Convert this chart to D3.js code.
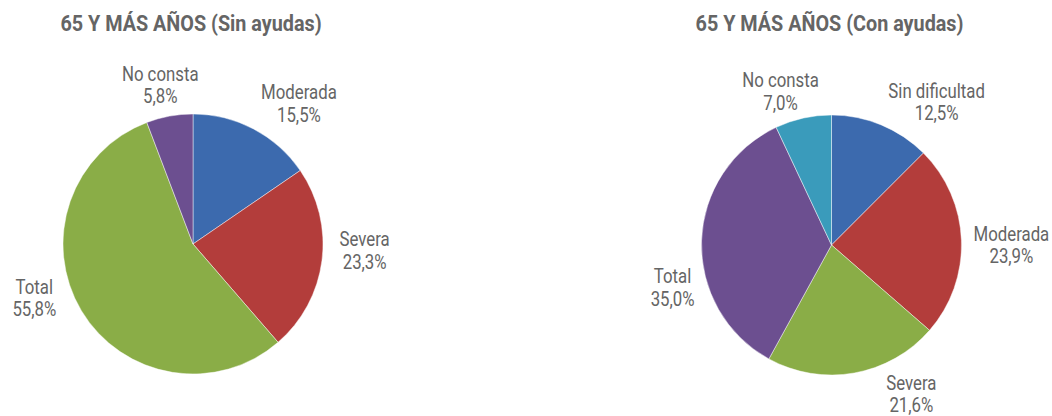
<!DOCTYPE html>
<html>
<head>
<meta charset="utf-8">
<script src="https://cdn.jsdelivr.net/npm/d3@7"></script>
<style>
  body { margin: 0; background: #fff; }
  text { font-family: Roboto, "Liberation Sans", sans-serif; fill: #656565; }
</style>
</head>
<body>
<svg id="chart" width="1052" height="416"></svg>
<script>
// data
var titles = ["65 Y MÁS AÑOS (Sin ayudas)", "65 Y MÁS AÑOS (Con ayudas)"];
var sinLabels = ["Moderada", "Severa", "Total", "No consta"];
var sinValues = [15.5, 23.3, 55.8, 5.8];
var conLabels = ["Sin dificultad", "Moderada", "Severa", "Total", "No consta"];
var conValues = [12.5, 23.9, 21.6, 35.0, 7.0];

var palette = ["#3c6aae", "#b33d3b", "#8aad47", "#6c4f90", "#3a9bbb"];

var radius = 130;
var labelR = 165;
var squeeze = 0.8;      // no condensed font installed, so narrow the glyphs
var titleSqueeze = 0.9;

// label nudges (px) from the centroid on the label ring
var nudgeSin = [[29, 5], [8, -15], [-17, -31], [-3, 3]];
var nudgeCon = [[42, 9], [15, 5], [51, -14], [6, 47], [-15, 7]];

var svg = d3.select("#chart");

function fmt(v) {
  return d3.format(".1f")(v).replace(".", ",") + "%";
}

function drawPie(cx, cy, title, labels, values, nudges) {
  var g = svg.append("g").attr("transform", "translate(" + cx + "," + cy + ")");
  var data = labels.map(function(d, i) { return {key: d, value: values[i], i: i}; });

  var pie = d3.pie().sort(null).value(function(d) { return d.value; });
  var arc = d3.arc().innerRadius(0).outerRadius(radius);
  var labelArc = d3.arc().innerRadius(labelR).outerRadius(labelR);

  g.selectAll(".slice")
    .data(pie(data))
    .enter()
    .append("path")
      .attr("class", "slice")
      .attr("d", arc)
      .attr("fill", function(d) { return palette[d.data.i]; })
      .attr("stroke", "#ffffff")
      .attr("stroke-opacity", 0.6)
      .attr("stroke-width", 0.75);

  var lab = g.selectAll(".lab")
    .data(pie(data))
    .enter()
    .append("text")
      .attr("class", "lab")
      .attr("text-anchor", "middle")
      .style("font-size", "21px")
      .attr("transform", function(d) {
        var c = labelArc.centroid(d);
        var n = nudges[d.data.i];
        return "translate(" + (c[0] + n[0]) + "," + (c[1] + n[1]) + ") scale(" + squeeze + ",1)";
      });

  lab.append("tspan").attr("x", 0).attr("dy", "-0.18em").text(function(d) { return d.data.key; });
  lab.append("tspan").attr("x", 0).attr("dy", "1.07em").text(function(d) { return fmt(d.data.value); });

  svg.append("text")
    .attr("transform", "translate(" + (cx - 2) + ",31) scale(" + titleSqueeze + ",1)")
    .attr("text-anchor", "middle")
    .style("font-size", "22px")
    .style("font-weight", "bold")
    .text(title);
}

drawPie(193, 244, titles[0], sinLabels, sinValues, nudgeSin);
drawPie(831.5, 245, titles[1], conLabels, conValues, nudgeCon);
</script>
</body>
</html>
